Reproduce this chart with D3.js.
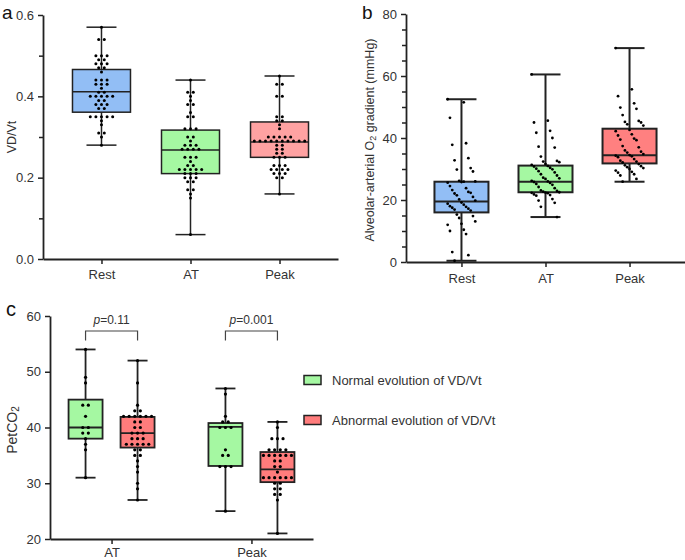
<!DOCTYPE html>
<html>
<head>
<meta charset="utf-8">
<script src="https://cdn.jsdelivr.net/npm/d3@7/dist/d3.min.js"></script>
<style>
  html, body { margin: 0; padding: 0; background: #fff; }
  svg { display: block; font-family: "Liberation Sans", Arial, sans-serif; }
</style>
</head>
<body>
<svg id="chart" width="685" height="560"></svg>
<script>
// ---------------- DATA ----------------
const categories = ["Rest", "AT", "Peak"];

// Panel a: VD/Vt individual values
const vdvtRest = [0.57, 0.54, 0.54, 0.50, 0.50, 0.50, 0.49, 0.49, 0.48, 0.48, 0.48, 0.47, 0.47, 0.46,
  0.44, 0.44, 0.44, 0.43, 0.43, 0.43, 0.42, 0.41, 0.41, 0.40, 0.40, 0.40, 0.40, 0.40, 0.39, 0.39,
  0.38, 0.38, 0.38, 0.37, 0.37, 0.35, 0.35, 0.35, 0.35, 0.35, 0.34, 0.33, 0.31, 0.31, 0.30, 0.28];
const vdvtAT = [0.44, 0.41, 0.41, 0.40, 0.39, 0.38, 0.38, 0.36, 0.35, 0.35, 0.32, 0.32, 0.32, 0.30, 0.30,
  0.29, 0.28, 0.28, 0.28, 0.27, 0.27, 0.27, 0.27, 0.25, 0.25, 0.25, 0.24, 0.23, 0.23, 0.22, 0.22, 0.22,
  0.22, 0.22, 0.21, 0.21, 0.21, 0.20, 0.20, 0.20, 0.19, 0.19, 0.17, 0.17, 0.16, 0.15, 0.06];
const vdvtPeak = [0.45, 0.43, 0.43, 0.40, 0.40, 0.35, 0.35, 0.34, 0.34, 0.33, 0.32, 0.30, 0.30, 0.30,
  0.30, 0.30, 0.29, 0.29, 0.29, 0.29, 0.29, 0.29, 0.29, 0.29, 0.29, 0.29, 0.28, 0.28, 0.27, 0.27, 0.26,
  0.26, 0.25, 0.25, 0.25, 0.23, 0.23, 0.23, 0.22, 0.22, 0.22, 0.22, 0.21, 0.21, 0.21, 0.20, 0.20, 0.16];
const vdvtMin = [0.28, 0.06, 0.16];
const vdvtQ1 = [0.361, 0.21, 0.25];
const vdvtMed = [0.411, 0.268, 0.288];
const vdvtQ3 = [0.466, 0.317, 0.337];
const vdvtMax = [0.57, 0.44, 0.45];
const vdvtTicks = [0, 0.2, 0.4, 0.6];

// Panel b: alveolar-arterial O2 gradient (mmHg)
const gradRest = [52.5, 51.5, 46.5, 38.3, 37.8, 33.5, 32.8, 30.3, 29.8, 29.2, 26.2, 26.0, 25.8, 25.6,
  25.9, 24.5, 23.8, 23.2, 22.6, 22.1, 22.3, 21.5, 21.0, 20.2, 19.8, 19.2, 18.8, 18.5, 18.0, 17.8, 17.5,
  17.2, 16.9, 16.6, 15.3, 14.8, 14.2, 13.1, 12.3, 12.0, 10.4, 10.0, 9.0, 3.2, 2.2, 0.4];
const gradAT = [60.5, 45.6, 45.0, 42.3, 41.7, 40.0, 37.2, 36.9, 34.0, 32.6, 32.4, 32.2, 31.6, 31.3,
  31.0, 30.8, 30.4, 30.1, 29.9, 29.3, 28.9, 28.3, 27.9, 27.2, 27.0, 26.8, 26.2, 26.0, 25.8, 25.5, 25.2,
  24.9, 24.2, 23.8, 23.1, 22.9, 22.7, 22.5, 22.4, 22.3, 22.2, 21.8, 21.6, 21.4, 20.3, 19.8, 19.1, 17.8, 14.5];
const gradPeak = [69.0, 55.7, 53.5, 51.2, 49.8, 49.4, 47.4, 45.5, 45.2, 45.0, 44.4, 44.0, 42.6, 42.2,
  41.2, 40.8, 39.8, 39.5, 39.3, 37.4, 37.0, 36.0, 35.6, 35.3, 34.8, 34.5, 34.3, 34.1, 33.8, 33.2, 32.7,
  32.4, 32.1, 31.6, 31.2, 30.9, 30.6, 30.3, 30.0, 29.5, 29.1, 28.8, 28.3, 27.9, 26.8, 25.9];
const gradMin = [0.4, 14.5, 25.9];
const gradQ1 = [16.0, 22.5, 31.8];
const gradMed = [19.5, 25.9, 34.4];
const gradQ3 = [25.9, 31.1, 43.0];
const gradMax = [52.5, 60.5, 69.0];
const gradTicks = [0, 20, 40, 60, 80];

// Panel c: PetCO2 by VD/Vt evolution
const phases = ["AT", "Peak"];
const evolutions = ["Normal evolution of VD/Vt", "Abnormal evolution of VD/Vt"];
const petNormalAT = [54, 49, 48, 44, 44, 42, 40, 40, 39, 39, 38, 37, 36, 31];
const petAbnormalAT = [52, 48, 44, 43, 43, 42, 42, 42, 42, 42, 42, 41, 41, 40, 40, 39, 39, 39, 38, 38, 38,
  37, 37, 37, 37, 37, 36, 36, 35, 35, 34, 33, 32, 30, 29, 27];
const petNormalPeak = [47, 46, 42, 41, 41, 40, 40, 40, 36, 35, 35, 33, 33, 33, 25];
const petAbnormalPeak = [41, 40, 38, 38, 38, 36, 36, 36, 36, 35, 35, 35, 35, 35, 35, 34, 34, 33, 33, 32,
  31, 31, 31, 31, 31, 31, 30, 30, 29, 29, 28, 28, 27, 21];
// order: AT-normal, AT-abnormal, Peak-normal, Peak-abnormal
const petMin = [31, 27, 25, 21];
const petQ1 = [38, 36.4, 33.1, 30.2];
const petMed = [40, 39, 40.1, 32.5];
const petQ3 = [45, 41.9, 40.8, 35.6];
const petMax = [54, 52, 47, 41];
const petTicks = [20, 30, 40, 50, 60];
const pValues = ["0.11", "0.001"];

// ---------------- DRAW ----------------
const svg = d3.select("#chart");
const INK = "#222";
const TXT = "#333";
const FS = 13;

function styleAxis(g) {
  g.selectAll("path.domain").attr("stroke", INK).attr("stroke-width", 1.8);
  g.selectAll(".tick line").attr("stroke", INK).attr("stroke-width", 1.5);
  g.selectAll(".tick text").attr("fill", TXT).attr("font-size", FS)
    .attr("font-family", "Liberation Sans, Arial, sans-serif");
}

function drawBox(g, cx, y, s, boxW, capW, fill, strokeW) {
  g.append("line").attr("x1", cx).attr("x2", cx).attr("y1", y(s.min)).attr("y2", y(s.max))
    .attr("stroke", INK).attr("stroke-width", strokeW);
  [s.min, s.max].forEach(v => {
    g.append("line").attr("x1", cx - capW / 2).attr("x2", cx + capW / 2)
      .attr("y1", y(v)).attr("y2", y(v)).attr("stroke", INK).attr("stroke-width", strokeW);
  });
  g.append("rect").attr("x", cx - boxW / 2).attr("width", boxW)
    .attr("y", y(s.q3)).attr("height", y(s.q1) - y(s.q3))
    .attr("fill", fill).attr("stroke", INK).attr("stroke-width", strokeW);
  g.append("line").attr("x1", cx - boxW / 2).attr("x2", cx + boxW / 2)
    .attr("y1", y(s.med)).attr("y2", y(s.med)).attr("stroke", INK).attr("stroke-width", strokeW);
}

function drawSwarm(g, cx, y, values, keyFn, spacing, r) {
  const rows = d3.group(values, keyFn);
  rows.forEach(vals => {
    const n = vals.length;
    vals.forEach((v, j) => {
      g.append("circle").attr("cx", cx + (j - (n - 1) / 2) * spacing).attr("cy", y(v))
        .attr("r", r).attr("fill", "#000");
    });
  });
}

function drawJitter(g, cx, y, values, r) {
  values.forEach((v, i) => {
    const off = (((i * 7) % 13) - 6) * 2.3;
    g.append("circle").attr("cx", cx + off).attr("cy", y(v)).attr("r", r).attr("fill", "#000");
  });
}

// ---------- Panel a ----------
{
  const g = svg.append("g");
  const x = d3.scalePoint().domain(categories).range([43, 338]).padding(0.657);
  const y = d3.scaleLinear().domain([0, 0.6]).range([259, 15]);
  const colors = ["#92bef5", "#a5f8a2", "#ffa2a2"];
  const data = [vdvtRest, vdvtAT, vdvtPeak];

  const ya = g.append("g").attr("transform", "translate(43,0)")
    .call(d3.axisLeft(y).tickValues(vdvtTicks).tickFormat(d3.format(".1f")).tickSize(5).tickSizeOuter(0).tickPadding(4));
  styleAxis(ya);
  g.append("g").attr("transform", "translate(43,0)")
    .call(d3.axisLeft(y).tickValues([0.1, 0.3, 0.5]).tickFormat("").tickSize(4))
    .call(a => { a.select(".domain").remove(); a.selectAll("line").attr("stroke", INK).attr("stroke-width", 1.5); });
  const xa = g.append("g").attr("transform", "translate(0,259)")
    .call(d3.axisBottom(x).tickSize(5).tickSizeOuter(0).tickPadding(6));
  styleAxis(xa);

  categories.forEach((c, i) => {
    const s = { min: vdvtMin[i], q1: vdvtQ1[i], med: vdvtMed[i], q3: vdvtQ3[i], max: vdvtMax[i] };
    drawBox(g, x(c), y, s, 58, 30, colors[i], 1.5);
    drawSwarm(g, x(c), y, data[i], v => Math.round(v * 100), 5.6, 1.5);
  });

  g.append("text").attr("x", 12).attr("y", 137).attr("transform", "rotate(-90,12,137)")
    .attr("text-anchor", "middle").attr("dominant-baseline", "central")
    .attr("font-size", 12.5).attr("fill", TXT).text("VD/Vt");
  g.append("text").attr("x", 2).attr("y", 19).attr("font-size", 19).attr("fill", "#111").text("a");
}

// ---------- Panel b ----------
{
  const g = svg.append("g");
  const x = d3.scalePoint().domain(categories).range([406, 685]).padding(0.66);
  const y = d3.scaleLinear().domain([0, 80]).range([262, 14]);
  const colors = ["#92bef5", "#a5f8a2", "#ff8080"];
  const data = [gradRest, gradAT, gradPeak];

  const ya = g.append("g").attr("transform", "translate(406,0)")
    .call(d3.axisLeft(y).tickValues(gradTicks).tickSize(5).tickSizeOuter(0).tickPadding(4));
  styleAxis(ya);
  g.append("g").attr("transform", "translate(406,0)")
    .call(d3.axisLeft(y).tickValues(d3.range(5, 80, 5).filter(v => v % 20 !== 0)).tickFormat("").tickSize(4))
    .call(a => { a.select(".domain").remove(); a.selectAll("line").attr("stroke", INK).attr("stroke-width", 1.5); });
  const xa = g.append("g").attr("transform", "translate(0,262)")
    .call(d3.axisBottom(x).tickSize(5).tickSizeOuter(0).tickPadding(7));
  styleAxis(xa);

  categories.forEach((c, i) => {
    const s = { min: gradMin[i], q1: gradQ1[i], med: gradMed[i], q3: gradQ3[i], max: gradMax[i] };
    drawBox(g, x(c), y, s, 54, 30, colors[i], 2);
    drawJitter(g, x(c), y, data[i], 1.4);
  });

  const lab = g.append("text").attr("x", 370).attr("y", 140).attr("transform", "rotate(-90,370,140)")
    .attr("text-anchor", "middle").attr("dominant-baseline", "central")
    .attr("font-size", 12.5).attr("fill", TXT);
  lab.append("tspan").text("Alveolar-arterial O");
  lab.append("tspan").attr("font-size", 9).attr("dy", 3).text("2");
  lab.append("tspan").attr("dy", -3).text(" gradient (mmHg)");
  g.append("text").attr("x", 362).attr("y", 19).attr("font-size", 19).attr("fill", "#111").text("b");
}

// ---------- Panel c ----------
{
  const g = svg.append("g");
  const x = d3.scalePoint().domain(phases).range([50, 313]).padding(0.44);
  const sub = d3.scalePoint().domain(evolutions).range([-26, 26]);
  const y = d3.scaleLinear().domain([20, 60]).range([539, 316]);
  const colors = ["#a5f8a2", "#ff7c7c"];
  const data = [petNormalAT, petAbnormalAT, petNormalPeak, petAbnormalPeak];

  const ya = g.append("g").attr("transform", "translate(50,0)")
    .call(d3.axisLeft(y).tickValues(petTicks).tickSize(5).tickSizeOuter(0).tickPadding(4));
  styleAxis(ya);
  const xa = g.append("g").attr("transform", "translate(0,539)")
    .call(d3.axisBottom(x).tickSize(5).tickSizeOuter(0).tickPadding(4));
  styleAxis(xa);

  phases.forEach((p, pi) => {
    evolutions.forEach((e, ei) => {
      const k = pi * 2 + ei;
      const cx = x(p) + sub(e);
      const s = { min: petMin[k], q1: petQ1[k], med: petMed[k], q3: petQ3[k], max: petMax[k] };
      drawBox(g, cx, y, s, 34, 20, colors[ei], 1.8);
      drawSwarm(g, cx, y, data[k], v => Math.round(v), 5.6, 1.6);
    });
    const x1 = x(p) + sub(evolutions[0]), x2 = x(p) + sub(evolutions[1]);
    g.append("path").attr("d", `M${x1},340.5V331H${x2}V340.5`).attr("fill", "none")
      .attr("stroke", "#444").attr("stroke-width", 1.2);
    const t = g.append("text").attr("x", (x1 + x2) / 2).attr("y", 324).attr("text-anchor", "middle")
      .attr("font-size", 12).attr("fill", TXT);
    t.append("tspan").attr("font-style", "italic").text("p");
    t.append("tspan").text("=" + pValues[pi]);
  });

  const lab = g.append("text").attr("x", 12).attr("y", 430).attr("transform", "rotate(-90,12,430)")
    .attr("text-anchor", "middle").attr("dominant-baseline", "central")
    .attr("font-size", 14).attr("fill", TXT);
  lab.append("tspan").text("PetCO");
  lab.append("tspan").attr("font-size", 10).attr("dy", 3).text("2");

  g.append("text").attr("x", 6).attr("y", 316).attr("font-size", 20).attr("fill", "#111").text("c");

  evolutions.forEach((e, i) => {
    const ly = 380 + i * 40;
    g.append("rect").attr("x", 304).attr("y", ly - 4.5).attr("width", 17).attr("height", 9)
      .attr("fill", colors[i]).attr("stroke", INK).attr("stroke-width", 1.5);
    g.append("text").attr("x", 332).attr("y", ly).attr("dominant-baseline", "central")
      .attr("font-size", 13).attr("fill", TXT).text(e);
  });
}
</script>
</body>
</html>
